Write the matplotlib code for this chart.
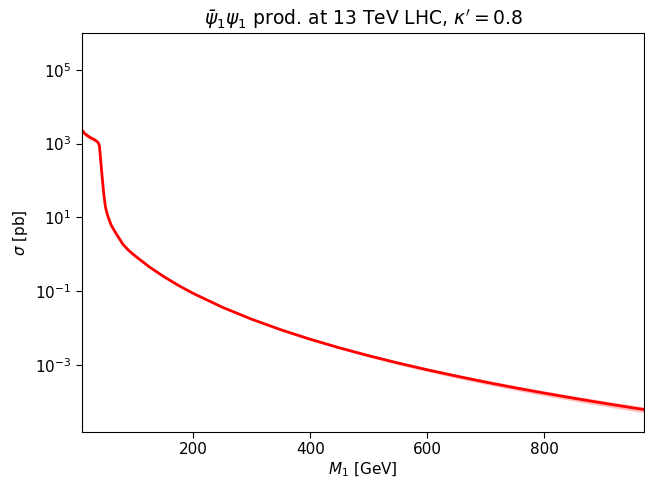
import matplotlib
matplotlib.use("Agg")
import matplotlib.pyplot as plt
from matplotlib.ticker import NullLocator, LogFormatterMathtext
import numpy as np

# Mass points [GeV]
mass = [10, 15, 20, 25, 30, 35, 38, 40, 42, 44, 46, 48, 50, 52, 55, 60, 65,
        70, 80, 90, 100, 125, 150, 175, 200, 250, 300, 350, 400, 450, 500,
        550, 600, 650, 700, 750, 800, 850, 900, 950, 970]
# Central cross section [pb]
sigma = [2344, 1862, 1622, 1445, 1318, 1175, 1047, 851, 355, 158, 70.8, 35.5,
         20.0, 14.5, 10.0, 6.17, 4.47, 3.31, 1.86, 1.26, 0.923, 0.455, 0.246,
         0.142, 0.0867, 0.0364, 0.01726, 0.00891, 0.00494, 0.00289,
         0.001766, 0.001119, 0.000733, 0.000493, 0.000339, 0.000238,
         0.0001706, 0.0001242, 0.0000916, 0.0000685, 0.0000612]
# Relative uncertainty [%]
unc_pct = [15, 14, 13, 12, 11, 10, 9, 8, 5, 5, 5, 5, 5, 5, 5, 5, 5, 5, 5, 5,
           5, 4, 4, 4, 4, 4, 4, 6, 7, 8, 9, 10, 11, 12, 13, 14, 15, 16, 17,
           18, 18]

yticks = [1e-3, 1e-1, 1e1, 1e3, 1e5]
xticks = [200, 400, 600, 800]

m = np.array(mass, dtype=float)
s = np.array(sigma, dtype=float)
u = np.array(unc_pct, dtype=float) / 100.0

fig = plt.figure(figsize=(6.45, 4.79), dpi=100)
ax = fig.add_axes([0.127, 0.098, 0.8714, 0.833])
ax.fill_between(m, s * (1 - u), s * (1 + u), color="red", alpha=0.25, lw=0)
ax.plot(m, s, color="red", lw=2)
ax.set_yscale("log")
ax.set_xlim(10, 970)
ax.set_ylim(1.5e-5, 1e6)
ax.set_yticks(yticks)
ax.yaxis.set_major_formatter(LogFormatterMathtext())
ax.yaxis.set_minor_locator(NullLocator())
ax.set_xticks(xticks)
ax.tick_params(labelsize=11, length=4)
ax.set_xlabel(r"$M_1$ [GeV]", fontsize=11, labelpad=2.5)
ax.set_ylabel(r"$\sigma$ [pb]", fontsize=11)
ax.set_title(r"$\bar{\psi}_1\psi_1$ prod. at 13 TeV LHC, $\kappa^\prime = 0.8$",
             fontsize=13.5)
fig.savefig("out.png", dpi=100)
